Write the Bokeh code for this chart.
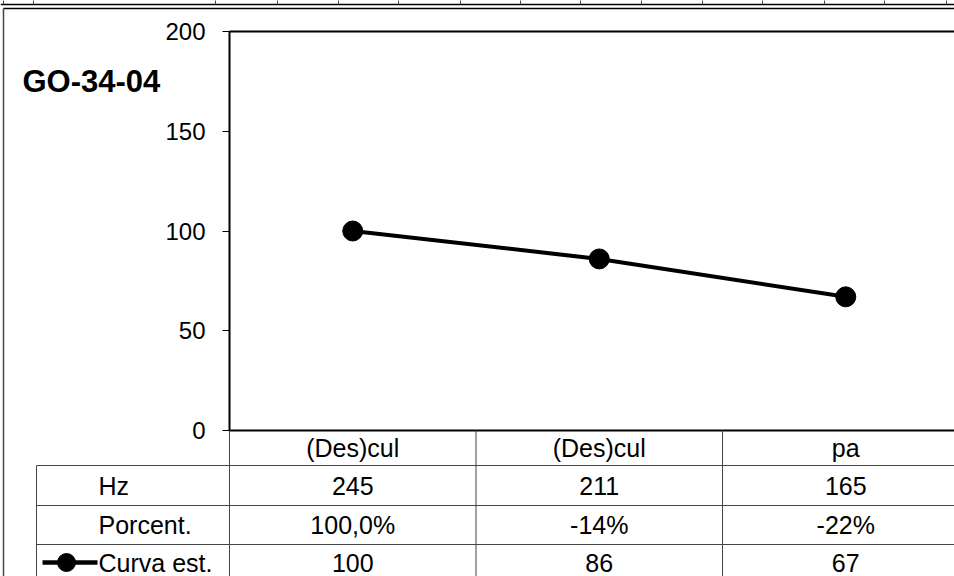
from bokeh.plotting import figure
from bokeh.models import Range1d, LinearAxis, FixedTicker, ColumnDataSource
from bokeh.embed import file_html
from bokeh.resources import INLINE
from bokeh.core.properties import value

# ---- data ----
title_text = "GO-34-04"
categories = ["(Des)cul", "(Des)cul", "pa"]
hz = [245, 211, 165]
porcent = ["100,0%", "-14%", "-22%"]
curva = [100, 86, 67]
row_names = ["Hz", "Porcent.", "Curva est."]
y_ticks = [0, 50, 100, 150, 200]
y_max = 200

# ---- layout constants (pixel positions on the page) ----
FONT = "Liberation Sans"
W, H = 954, 576
AXIS_PX = 229        # left edge of the plot area
CAT_PX = 246.5       # width of one category
TOP_PX = 31          # y pixel of the top of the value axis
ZERO_PX = 430        # y pixel of value 0
PX_PER_UNIT = (ZERO_PX - TOP_PX) / y_max

def x_of(px):
    return -0.5 + (px - AXIS_PX) / CAT_PX

def y_of(py):
    return (ZERO_PX - py) / PX_PER_UNIT

xs = list(range(len(categories)))
x_right = x_of(W + 20)

p = figure(width=W, height=H, x_range=Range1d(x_of(0), x_of(W)), y_range=Range1d(y_of(H), y_of(0)),
           output_backend="svg", toolbar_location=None, min_border=0,
           x_axis_location=None, y_axis_location=None)
p.xgrid.visible = False
p.ygrid.visible = False
p.outline_line_color = None
p.background_fill_color = "white"

yaxis = LinearAxis(fixed_location=-0.5, bounds=(0, y_max), ticker=FixedTicker(ticks=y_ticks))
yaxis.axis_line_width = 2
yaxis.axis_line_color = "black"
yaxis.major_tick_out = 7
yaxis.major_tick_in = 0
yaxis.major_tick_line_color = "black"
yaxis.minor_tick_line_color = None
yaxis.major_label_text_font = FONT
yaxis.major_label_text_font_size = "24px"
yaxis.major_label_text_color = "black"
yaxis.major_label_standoff = 17
p.add_layout(yaxis, "left")

# plot-area top and bottom edges
p.segment(x0=[-0.5, -0.5], y0=[y_max, 0], x1=[x_right, x_right], y1=[y_max, 0],
          line_color="black", line_width=2)

# series
src = ColumnDataSource(dict(x=xs, y=curva))
p.line("x", "y", source=src, line_color="black", line_width=4)
p.scatter("x", "y", source=src, size=20, fill_color="black", line_color="black")

# title
p.text(x=[x_of(22)], y=[y_of(81)], text=[title_text], text_font=value(FONT),
       text_font_size="31px", text_font_style="bold", text_color="black",
       text_align="left", text_baseline="middle")

# ---- spreadsheet frame decoration ----
GRID = "#444444"
p.segment(x0=[x_of(0), x_of(3)], y0=[y_of(4), y_of(8)], x1=[x_right, x_right], y1=[y_of(4), y_of(8)],
          line_color="black", line_width=1.5)
p.segment(x0=[x_of(3)], y0=[y_of(8)], x1=[x_of(3)], y1=[y_of(H + 5)], line_color=GRID, line_width=1.5)
strip_px = [3, 33, 215, 277, 338, 398, 460, 520, 580, 641, 702, 762, 824, 884, 946]
p.segment(x0=[x_of(v) for v in strip_px], y0=[y_of(-2)] * len(strip_px),
          x1=[x_of(v) for v in strip_px], y1=[y_of(4)] * len(strip_px), line_color=GRID, line_width=1)

# ---- data table ----
row_top_px = [430, 465, 505, 544]
row_mid_px = [447, 485, 524.5, 562]
label_left = x_of(36)
bottom = y_of(H + 5)

hl = row_top_px[1:]
p.segment(x0=[label_left] * len(hl), y0=[y_of(v) for v in hl], x1=[x_right] * len(hl),
          y1=[y_of(v) for v in hl], line_color=GRID, line_width=1)
vx = [i - 0.5 for i in range(len(categories))]
p.segment(x0=vx, y0=[0] * len(vx), x1=vx, y1=[bottom] * len(vx), line_color=GRID, line_width=1)
p.segment(x0=[label_left], y0=[y_of(row_top_px[1])], x1=[label_left], y1=[bottom],
          line_color=GRID, line_width=1)

TFS = "25px"
def table_text(xv, yv, texts, align="center"):
    p.text(x=xv, y=yv, text=texts, text_font=value(FONT), text_font_size=TFS,
           text_color="black", text_align=align, text_baseline="middle")

table_text(xs, [y_of(row_mid_px[0])] * len(xs), categories)
table_text(xs, [y_of(row_mid_px[1])] * len(xs), [str(v) for v in hz])
table_text(xs, [y_of(row_mid_px[2])] * len(xs), porcent)
table_text(xs, [y_of(row_mid_px[3])] * len(xs), [str(v) for v in curva])
table_text([x_of(98)] * len(row_names), [y_of(v) for v in row_mid_px[1:]], row_names, align="left")

# legend key of the series
key_y = y_of(row_mid_px[3])
p.segment(x0=[x_of(42)], y0=[key_y], x1=[x_of(97)], y1=[key_y], line_color="black", line_width=4.5)
p.scatter(x=[x_of(66)], y=[key_y], size=18, fill_color="black", line_color="black")

open("out.html", "w").write(file_html(p, INLINE))
